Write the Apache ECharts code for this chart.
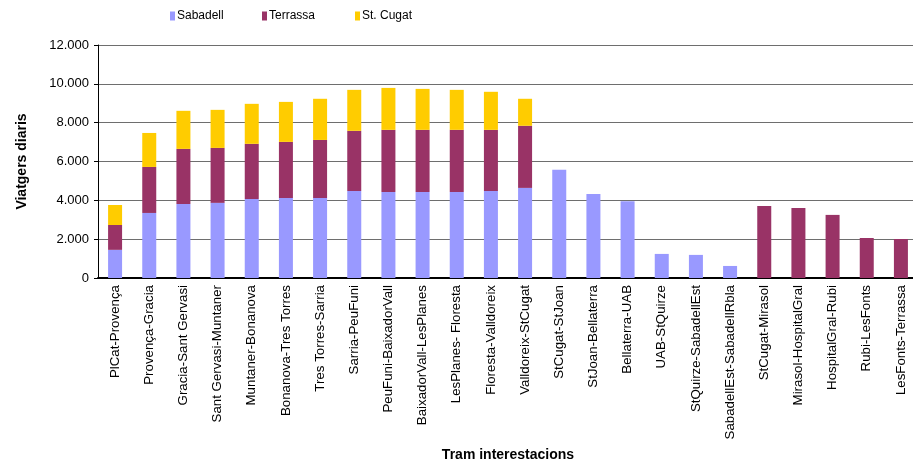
<!DOCTYPE html>
<html><head><meta charset="utf-8">
<script src="https://cdn.jsdelivr.net/npm/echarts@6/dist/echarts.min.js"></script>
<style>html,body{margin:0;padding:0;background:#fff}#c{width:913px;height:463px}</style>
</head><body><div id="c"></div>
<script>
const categories = ["PlCat-Provença","Provença-Gracia","Gracia-Sant Gervasi","Sant Gervasi-Muntaner","Muntaner-Bonanova","Bonanova-Tres Torres","Tres Torres-Sarria","Sarria-PeuFuni","PeuFuni-BaixadorVall","BaixadorVall-LesPlanes","LesPlanes- Floresta","Floresta-Valldoreix","Valldoreix-StCugat","StCugat-StJoan","StJoan-Bellaterra","Bellaterra-UAB","UAB-StQuirze","StQuirze-SabadellEst","SabadellEst-SabadellRbla","StCugat-Mirasol","Mirasol-HospitalGral","HospitalGral-Rubi","Rubi-LesFonts","LesFonts-Terrassa"];
const sabadell = [1450,3350,3810,3870,4070,4120,4120,4480,4430,4430,4430,4480,4640,5570,4330,3950,1240,1190,620,null,null,null,null,null];
const terrassa = [1280,2370,2840,2830,2840,2890,2990,3100,3200,3200,3200,3150,3200,null,null,null,null,null,null,3710,3610,3250,2060,2010];
const stCugat = [1030,1750,1960,1960,2060,2060,2120,2110,2160,2110,2060,1960,1390,null,null,null,null,null,null,null,null,null,null,null];
const yTicks = [0,2000,4000,6000,8000,10000,12000];
const seriesNames = ['Sabadell','Terrassa','St. Cugat'];

const FONT = "'Liberation Sans', Arial, sans-serif";
const chart = echarts.init(document.getElementById('c'), null, {renderer:'canvas'});
const fmt = v => String(v).replace(/\B(?=(\d{3})+(?!\d))/g, '.');
const legendLeft = [165, 257, 350];
chart.setOption({
  animation:false,
  textStyle:{fontFamily:FONT,color:'#000'},
  legend: seriesNames.map((n,i)=>({
    top:5,left:legendLeft[i],itemWidth:5,itemHeight:9,itemGap:0,icon:'rect',
    textStyle:{fontFamily:FONT,fontSize:12,color:'#000',padding:[0,0,0,-3]},
    data:[n]
  })),
  grid:{left:98,top:45,width:820,bottom:185,outerBoundsMode:'none',containLabel:false},
  xAxis:{
    type:'category',data:categories,
    name:'Tram interestacions',nameLocation:'middle',nameGap:170,
    nameTextStyle:{fontFamily:FONT,fontSize:14,fontWeight:'bold',color:'#000'},
    axisLine:{lineStyle:{color:'#000',width:2}},
    axisTick:{show:false},
    axisLabel:{rotate:90,interval:0,fontFamily:FONT,fontSize:13.3,color:'#000',margin:7}
  },
  yAxis:{
    type:'value',min:yTicks[0],max:yTicks[yTicks.length-1],interval:2000,
    name:'Viatgers diaris',nameLocation:'middle',nameGap:69,
    nameTextStyle:{fontFamily:FONT,fontSize:14,fontWeight:'bold',color:'#000'},
    axisLine:{show:true,lineStyle:{color:'#000',width:1}},
    axisTick:{show:true,length:4,lineStyle:{color:'#000'}},
    splitLine:{lineStyle:{color:'#6e6e6e',width:1}},
    axisLabel:{formatter:fmt,fontFamily:FONT,fontSize:13,color:'#000',margin:9}
  },
  series:[
    {name:seriesNames[0],type:'bar',stack:'t',data:sabadell,barWidth:14,itemStyle:{color:'#9999FF'}},
    {name:seriesNames[1],type:'bar',stack:'t',data:terrassa,barWidth:14,itemStyle:{color:'#993366'}},
    {name:seriesNames[2],type:'bar',stack:'t',data:stCugat,barWidth:14,itemStyle:{color:'#FFCC00'}}
  ]
});
</script></body></html>
